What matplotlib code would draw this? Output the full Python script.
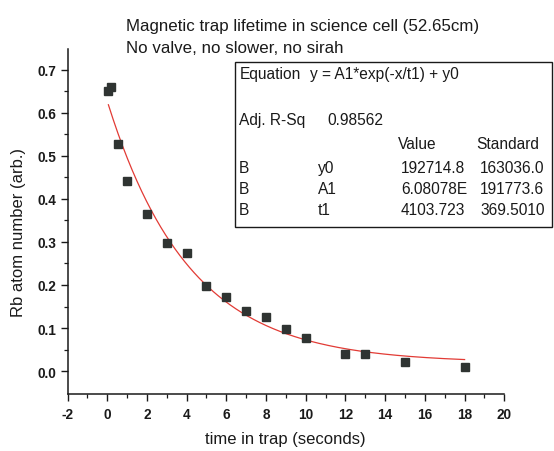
import numpy as np
import matplotlib
matplotlib.use("Agg")
import matplotlib.pyplot as plt

# ---- data ----
time_s = [0.06, 0.18, 0.55, 1.0, 2.0, 3.0, 4.0, 5.0, 6.0, 7.0, 8.0, 9.0, 10.0, 12.0, 13.0, 15.0, 18.0]
atoms = [0.651, 0.659, 0.528, 0.441, 0.366, 0.298, 0.274, 0.198, 0.171, 0.139, 0.126, 0.098, 0.078,
         0.039, 0.039, 0.022, 0.010]

# fit parameters shown in the table (raw units: atoms, ms)
fit_y0 = 192714.8
fit_A1 = 6.08078e6
fit_t1 = 4103.723
y_scale = 1e-7  # arb. units

title_lines = ["Magnetic trap lifetime in science cell (52.65cm)", "No valve, no slower, no sirah"]
xlabel = "time in trap (seconds)"
ylabel = "Rb atom number (arb.)"
xticks = [-2, 0, 2, 4, 6, 8, 10, 12, 14, 16, 18, 20]
yticks = [0.0, 0.1, 0.2, 0.3, 0.4, 0.5, 0.6, 0.7]

table_header = ["Value", "Standard"]
table_rows = [["B", "y0", "192714.8", "163036.0"],
              ["B", "A1", "6.08078E", "191773.6"],
              ["B", "t1", "4103.723", "369.5010"]]
equation_text = "y = A1*exp(-x/t1) + y0"
adj_r_sq = "0.98562"

plt.rcParams['font.family'] = ['Liberation Sans', 'DejaVu Sans']

W, H = 554, 452
fig = plt.figure(figsize=(W / 100, H / 100), dpi=100)
fig.patch.set_facecolor('white')

def fx(px):
    return px / W

def fy(py):
    return 1 - py / H

left, right, bottom, top = 67.5, 504.3, 394.8, 49.6
ax = fig.add_axes([fx(left), fy(bottom), (right - left) / W, (bottom - top) / H])

ax.plot(time_s, atoms, linestyle='none', marker='s', markersize=6.0,
        color='#2f3432', markeredgecolor='#2f3432', zorder=3)

xc = np.linspace(time_s[0], time_s[-1], 300)
yc = (fit_A1 * np.exp(-xc * 1000 / fit_t1) + fit_y0) * y_scale
ax.plot(xc, yc, color='#e23b35', lw=0.9, zorder=2)

ax.set_xlim(-2, 20)
ax.set_ylim(-0.0527, 0.749)
ax.set_xticks(xticks)
ax.set_xticks(np.arange(-1, 20, 2), minor=True)
ax.set_yticks(yticks)
ax.set_yticks(np.arange(0.05, 0.7, 0.1), minor=True)
ax.set_xticklabels([str(t) for t in xticks])
ax.set_yticklabels([f"{t:.1f}" for t in yticks])

for s in ['top', 'right']:
    ax.spines[s].set_visible(False)
for s in ['left', 'bottom']:
    ax.spines[s].set_linewidth(1.1)
    ax.spines[s].set_color('#1a1a1a')

ax.tick_params(axis='both', which='major', direction='out', length=4.8, width=1.0,
               labelsize=9.8, colors='#1a1a1a')
ax.tick_params(axis='both', which='minor', direction='out', length=2.6, width=0.9, colors='#1a1a1a')
ax.tick_params(axis='x', which='major', pad=5.0)
ax.tick_params(axis='y', which='major', pad=3.5)
for lab in ax.get_xticklabels() + ax.get_yticklabels():
    lab.set_fontweight('bold')

ax.set_xlabel(xlabel, fontsize=12, color='#1a1a1a')
ax.set_ylabel(ylabel, fontsize=12, color='#1a1a1a')
ax.xaxis.label.set_va('center')
ax.yaxis.label.set_va('center')
ax.xaxis.set_label_coords((285.4 - left) / (right - left), (bottom - 439.9) / (bottom - top))
ax.yaxis.set_label_coords((18.4 - left) / (right - left), (bottom - 232.6) / (bottom - top))

# title
fig.text(fx(125.5), fy(26.5), title_lines[0], fontsize=12.2, ha='left', va='center', color='#1a1a1a')
fig.text(fx(125.5), fy(48.3), title_lines[1], fontsize=12.2, ha='left', va='center', color='#1a1a1a')

# fit table box
bx0, by0, bw, bh = 235.0, 63.1, 317.0, 165.0
box = plt.Rectangle((fx(bx0), fy(by0 + bh)), bw / W, bh / H, transform=fig.transFigure,
                    facecolor='white', edgecolor='#1a1a1a', lw=1.0, zorder=5)
fig.patches.append(box)

def btxt(lx, ly, s):
    fig.text(fx(bx0 + lx), fy(by0 + ly), s, fontsize=11.2, ha='left', va='center',
             color='#1a1a1a', zorder=6)

btxt(5, 11, "Equation")
btxt(75, 11, equation_text)
btxt(4, 57, "Adj. R-Sq")
btxt(92, 57, adj_r_sq)
btxt(163, 81, table_header[0])
btxt(241, 81, table_header[1])
for i, row in enumerate(table_rows):
    ly = 105 + 21 * i
    btxt(4, ly, row[0])
    btxt(83, ly, row[1])
    btxt(166, ly, row[2])
    btxt(245, ly, row[3])

fig.savefig("out.png", dpi=100, facecolor='white')
